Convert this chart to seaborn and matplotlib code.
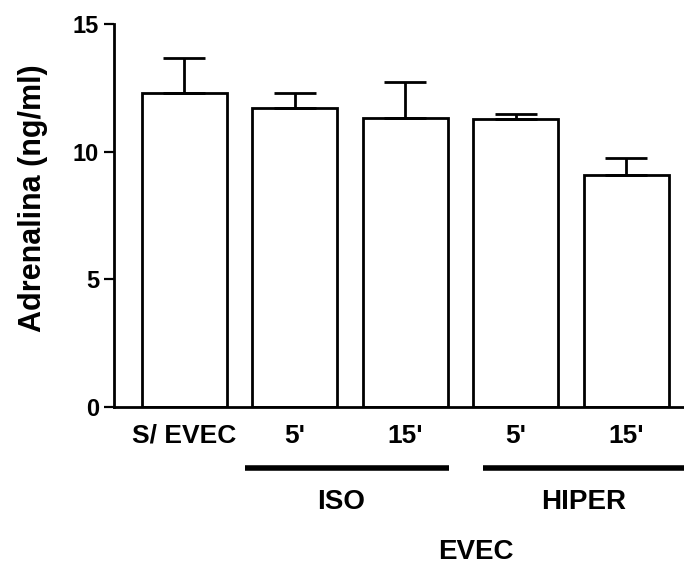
import matplotlib
matplotlib.use("Agg")
import matplotlib.pyplot as plt
import matplotlib.transforms as mtransforms
import seaborn as sns
import pandas as pd

# Adrenaline levels per group (mean and upper SEM)
categories = ["S/ EVEC", "5'", "15'", "5' ", "15' "]
means = [12.3, 11.7, 11.3, 11.27, 9.08]
sem = [1.35, 0.58, 1.42, 0.2, 0.66]
tick_labels = ["S/ EVEC", "5'", "15'", "5'", "15'"]
groups = ["ISO", "HIPER"]
group_spans = [(0.55, 2.40), (2.70, 4.70)]
group_centers = [1.418, 3.619]
outer_label = "EVEC"
y_ticks = [0, 5, 10, 15]

sns.set_theme(style="ticks")
plt.rcParams["font.family"] = ["Liberation Sans", "DejaVu Sans"]
plt.rcParams["font.weight"] = "bold"
plt.rcParams["text.color"] = "black"
plt.rcParams["axes.labelcolor"] = "black"
plt.rcParams["xtick.color"] = "black"
plt.rcParams["ytick.color"] = "black"

df = pd.DataFrame({"group": categories, "value": means})

fig = plt.figure(figsize=(6.84, 5.70), dpi=100)
ax = fig.add_axes([0.1667, 0.286, 0.8333, 0.672])

sns.barplot(data=df, x="group", y="value", order=categories, color="white",
            edgecolor="black", linewidth=2, width=0.77, errorbar=None, ax=ax,
            saturation=1)

xs = list(range(len(categories)))
ax.errorbar(xs, means, yerr=[[0] * len(sem), sem], fmt="none", ecolor="black",
            elinewidth=2, capsize=15, capthick=2, zorder=1)

ax.set_xlim(-0.638, 4.525)
ax.set_ylim(0, 15)
ax.set_yticks(y_ticks)
ax.set_yticklabels([str(t) for t in y_ticks], fontsize=17, fontweight="bold")
ax.set_xticks(xs)
ax.set_xticklabels(tick_labels, fontsize=19, fontweight="bold")
ax.tick_params(axis="x", length=0, pad=12)
ax.tick_params(axis="y", length=7.2, width=1.6, pad=3.5)

ax.set_xlabel("")
ax.set_ylabel("Adrenalina (ng/ml)", fontsize=22, fontweight="bold")
ax.yaxis.set_label_coords(-0.116, 0.544)

sns.despine(ax=ax, top=True, right=True)
for side in ("left", "bottom"):
    ax.spines[side].set_linewidth(2)
    ax.spines[side].set_color("black")

# Group brackets under the tick labels
trans = mtransforms.blended_transform_factory(ax.transData, ax.transAxes)
for name, (x0, x1), xc in zip(groups, group_spans, group_centers):
    ax.plot([x0, x1], [-0.159, -0.159], color="black", linewidth=4,
            transform=trans, clip_on=False, solid_capstyle="butt")
    ax.text(xc, -0.248, name, transform=trans, ha="center", va="center",
            fontsize=20, fontweight="bold")
ax.text(2.641, -0.379, outer_label, transform=trans, ha="center", va="center",
        fontsize=20, fontweight="bold")

fig.savefig("out.png", dpi=100)
